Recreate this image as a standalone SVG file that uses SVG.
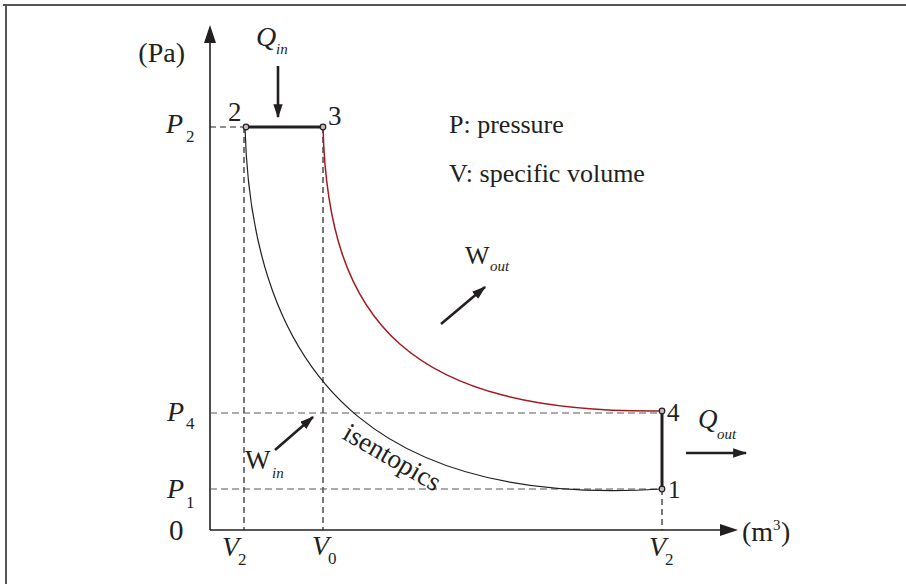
<svg xmlns="http://www.w3.org/2000/svg" width="906" height="584" viewBox="0 0 906 584">
<defs>
<style>
text{font-family:"Liberation Serif","Times New Roman",serif;fill:#231f20}
.i{font-style:italic}
.s{font-size:17px}
.d{fill:none;stroke:#231f20;stroke-width:1.2;stroke-dasharray:6 4}
.g{fill:none;stroke:#58595b;stroke-width:1.2;stroke-dasharray:7 4}
.ax{fill:none;stroke:#231f20;stroke-width:1.6}
.ar{fill:none;stroke:#231f20;stroke-width:2.6}
.pt{fill:#bcbec0;stroke:#231f20;stroke-width:1.2}
</style>
<marker id="ah" viewBox="0 0 12 8" refX="11" refY="4" markerWidth="5.5" markerHeight="3.6" markerUnits="strokeWidth" orient="auto">
<path d="M0,0 L12,4 L0,8 Z" fill="#231f20"/>
</marker>
</defs>
<rect width="906" height="584" fill="#fff"/>
<path d="M3,5 H906 M6,5 V584" fill="none" stroke="#555" stroke-width="2"/>

<g id="axes">
<line class="ax" x1="210" y1="530" x2="210" y2="40"/>
<path d="M210,25 L216,43 L204,43 Z" fill="#231f20"/>
<line class="ax" x1="210" y1="530" x2="724" y2="530"/>
<path d="M738,530 L720,536 L720,524 Z" fill="#231f20"/>
<text x="185" y="62" text-anchor="end" font-size="28">(Pa)</text>
<text x="169" y="540" font-size="29">0</text>
<text x="742" y="541" font-size="28">(m</text>
<text x="773" y="530" font-size="15">3</text>
<text x="781" y="541" font-size="28">)</text>
</g>

<g id="guides">
<line class="d" x1="210" y1="127" x2="245" y2="127"/>
<line class="d" x1="244" y1="127" x2="244" y2="530"/>
<line class="d" x1="323" y1="127" x2="323" y2="530"/>
<line class="g" x1="210" y1="413" x2="662" y2="413"/>
<line class="g" x1="210" y1="489" x2="662" y2="489"/>
<line class="d" x1="662" y1="489" x2="662" y2="530"/>
</g>

<g id="connectors">
<line x1="246" y1="127" x2="323" y2="127" stroke="#231f20" stroke-width="3"/>
<line x1="662" y1="412" x2="662" y2="489" stroke="#231f20" stroke-width="3"/>
<path d="M323,127 C328,325 410,413 662,411" fill="none" stroke="#a3191f" stroke-width="1.5"/>
<path d="M245,127 C252,400 400,505 662,489" fill="none" stroke="#231f20" stroke-width="1.2"/>
<line class="ar" x1="278" y1="66" x2="278" y2="117" marker-end="url(#ah)"/>
<line class="ar" x1="441" y1="324" x2="485" y2="287" marker-end="url(#ah)"/>
<line class="ar" x1="275" y1="450" x2="313" y2="417" marker-end="url(#ah)"/>
<line class="ar" x1="686" y1="453" x2="746" y2="453" marker-end="url(#ah)"/>
</g>

<g id="node-2">
<circle class="pt" cx="246" cy="127" r="2.8"/>
<text x="228" y="121" font-size="27">2</text>
</g>
<g id="node-3">
<circle class="pt" cx="323" cy="127" r="2.8"/>
<text x="328" y="125" font-size="27">3</text>
</g>
<g id="node-4">
<circle class="pt" cx="662" cy="411" r="2.8"/>
<text x="667" y="421" font-size="25">4</text>
</g>
<g id="node-1">
<circle class="pt" cx="662" cy="489" r="2.8"/>
<text x="668" y="498" font-size="25">1</text>
</g>

<g id="labels">
<text class="i" x="166" y="133" font-size="28">P</text>
<text class="s" x="186" y="142">2</text>
<text class="i" x="167" y="421" font-size="28">P</text>
<text class="s" x="186" y="429">4</text>
<text class="i" x="167" y="498" font-size="28">P</text>
<text class="s" x="186" y="508">1</text>
<text class="i" x="222" y="556" font-size="28">V</text>
<text class="s" x="238" y="565">2</text>
<text class="i" x="312" y="555" font-size="28">V</text>
<text class="s" x="328" y="564">0</text>
<text class="i" x="649" y="556" font-size="28">V</text>
<text class="s" x="665" y="565">2</text>
<text class="i" x="256" y="46" font-size="28">Q</text>
<text class="i" x="276" y="54" font-size="15">in</text>
<text class="i" x="698" y="428" font-size="27">Q</text>
<text class="i" x="717" y="439" font-size="15">out</text>
<text x="465" y="264" font-size="26">W</text>
<text class="i" x="490" y="271" font-size="15">out</text>
<text x="245" y="469" font-size="27">W</text>
<text class="i" x="272" y="478" font-size="15">in</text>
<text x="449" y="133" font-size="26">P: pressure</text>
<text x="449" y="182" font-size="26">V: specific volume</text>
<text x="0" y="0" font-size="27" transform="translate(341,438) rotate(30)">isentopics</text>
</g>
</svg>
